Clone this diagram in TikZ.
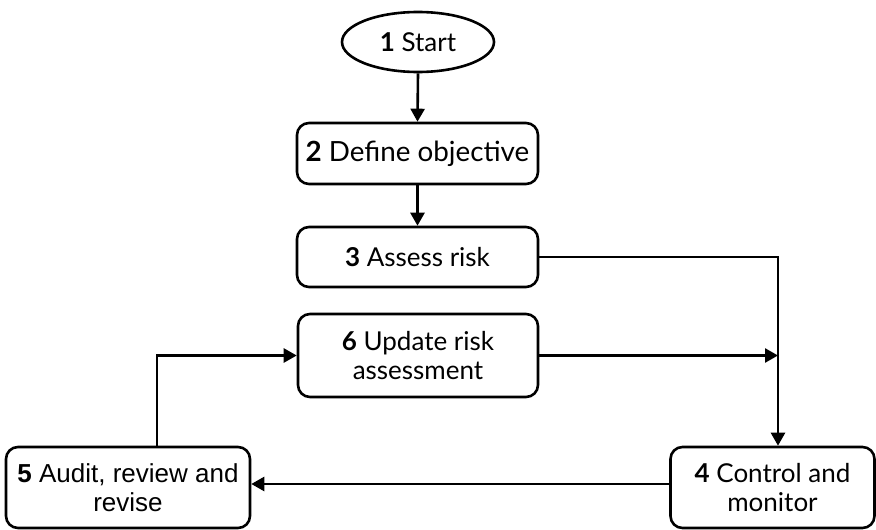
\documentclass[tikz,border=0pt]{standalone}
\usepackage{fontspec}
\setmainfont{Lato}
\newfontfamily\arialfont{Liberation Sans}
\usetikzlibrary{shapes.geometric,arrows.meta}
\begin{document}
\begin{tikzpicture}[x=1pt,y=-1pt,
  every node/.style={font=\fontsize{26}{29}\selectfont, align=center, inner sep=0pt},
  stepbox/.style={draw, line width=2.6pt, rounded corners=12pt},
  termbox/.style={draw, ellipse, line width=2.6pt},
  conn/.style={line width=2.6pt},
  arr/.style={conn, -{Triangle[length=13pt,width=14pt]}}]
\useasboundingbox (0,0) rectangle (876,530);
\node[termbox, minimum width=152pt, minimum height=60pt] (n1) at (418,42) {\textbf{1} Start};
\node[stepbox, minimum width=241pt, minimum height=61pt, font=\fontsize{27.8}{31}\selectfont] (n2) at (417.5,153.5) {\textbf{2} Define objective};
\node[stepbox, minimum width=241pt, minimum height=60pt] (n3) at (417.5,257) {\textbf{3} Assess risk};
\node[stepbox, minimum width=240pt, minimum height=83pt] (n6) at (418,355.5) {\textbf{6} Update risk\\assessment};
\node[stepbox, minimum width=244pt, minimum height=81pt, font=\arialfont\fontsize{26}{29}\selectfont] (n5) at (128,487.5) {\textbf{5} Audit, review and\\revise};
\node[stepbox, minimum width=204pt, minimum height=81pt] (n4) at (772.5,487.5) {\textbf{4} Control and\\monitor};
\coordinate (k) at (778,257);
\coordinate (m) at (157,355.5);
\coordinate (h) at (0,484);
\draw[arr] (n1.south) -- (n2.north);
\draw[arr] (n2.south) -- (n3.north);
\draw[arr] (n3.east) -- (k) -- (k |- n4.north);
\draw[arr] (n6.east) -- (k |- n6.east);
\draw[arr] (n4.west |- h) -- (n5.east |- h);
\draw[arr] (m |- n5.north) -- (m) -- (n6.west);
\end{tikzpicture}
\end{document}
